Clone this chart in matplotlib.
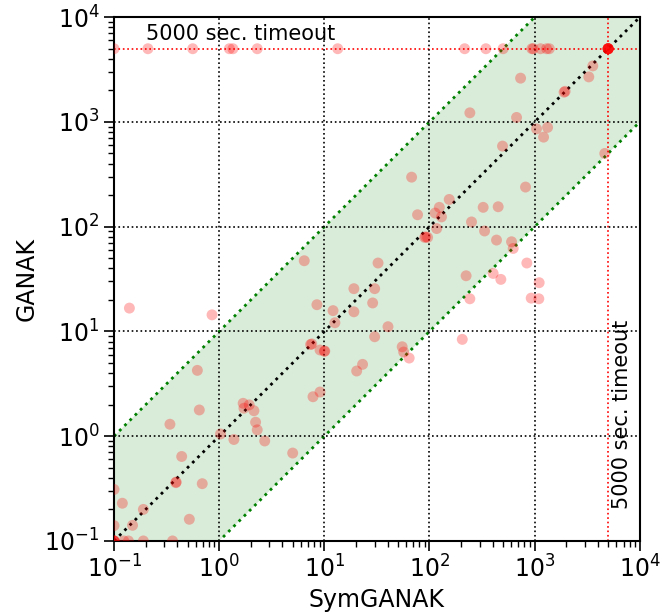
import numpy as np
import matplotlib
matplotlib.use("Agg")
import matplotlib.pyplot as plt

TIMEOUT = 5000

# runs that hit the timeout on GANAK side
timeout_x = [0.1, 0.21, 0.56, 1.25, 1.35, 2.3, 13.4, 216, 344, 501, 940, 970,
             1138, 1300, 1380, 5000, 5000, 5000, 5000, 5000, 5000, 5000, 5000]

# solved instances (SymGANAK time, GANAK time)
sym_x = [3573, 3273, 1905, 1950, 735, 242, 673, 1042, 1327, 1216, 495, 4645,
         67.6, 819, 154,
         6.44, 32.4, 19.1, 30.1, 28.8, 8.5, 12.1, 19.1, 12.6, 30.1, 7.4, 7.6,
         9.1, 10, 10.1, 23.1, 20.3, 0.14, 0.855, 0.62,
         124, 77, 113, 130, 324, 450, 251, 117, 334, 90, 92, 96, 434, 603, 625,
         843, 223, 403, 477, 1104, 242, 927, 1096, 40.3, 55, 56.8, 64.1, 205,
         0.647, 0.34, 1.69, 1.93, 1.72, 2.14, 2.22, 2.30, 1.03, 1.38, 2.71, 7.8,
         9.1, 5.0, 0.44, 0.387, 0.39, 0.69, 0.1, 0.12, 0.19, 0.15, 0.52, 0.1,
         0.1, 0.1, 0.1, 0.1, 0.124, 0.137, 0.19, 0.36]
ganak_y = [3427, 2692, 1923, 1960, 2618, 1222, 1104, 859, 887, 716, 588, 500,
           297, 239, 182,
           47.3, 45, 25.6, 25.6, 18.7, 18.0, 15.8, 15.4, 12.1, 8.9, 7.5, 7.6,
           6.65, 6.46, 6.5, 4.85, 4.19, 16.7, 14.4, 4.25,
           153, 130, 135, 124, 153, 155, 111, 96, 91, 79, 80, 79, 74.5, 71.8, 62,
           45, 34, 35.8, 31.4, 29.2, 20.5, 20.8, 20.5, 11.1, 7.14, 6.36, 5.57, 8.4,
           1.78, 1.30, 2.06, 1.99, 1.85, 1.75, 1.36, 1.15, 1.05, 0.93, 0.90, 2.38,
           2.64, 0.69, 0.64, 0.36, 0.365, 0.352, 0.31, 0.229, 0.20, 0.141, 0.161, 0.14,
           0.1, 0.1, 0.1, 0.1, 0.1, 0.1, 0.1, 0.1]

lo, hi = 0.1, 1e4

fig = plt.figure(figsize=(6.63, 6.14), dpi=100)
ax = fig.add_axes([0.172, 0.119, 0.793, 0.853])
ax.set_xscale("log")
ax.set_yscale("log")

line = np.array([lo, hi])
ax.fill_between(line, line / 10, line * 10, color="green", alpha=0.15, lw=0)
ax.plot(line, line / 10, ":", color="green", lw=2)
ax.plot(line, line * 10, ":", color="green", lw=2)
ax.plot(line, line, ":", color="black", lw=2)

ax.axhline(TIMEOUT, color="red", ls=":", lw=1.2)
ax.axvline(TIMEOUT, color="red", ls=":", lw=1.2)

all_x = timeout_x + sym_x
all_y = [TIMEOUT] * len(timeout_x) + ganak_y
ax.scatter(all_x, all_y, s=62, color="red", alpha=0.28, edgecolors="none", zorder=3)

ax.text(0.2, 5600, "5000 sec. timeout", fontsize=15, ha="left", va="bottom")
ax.text(5450, 0.2, "5000 sec. timeout", fontsize=15, rotation=90,
        ha="left", va="bottom")

ax.set_xlim(lo, hi)
ax.set_ylim(lo, hi)
ax.grid(True, which="major", color="black", ls=":", lw=1.2)
ax.set_axisbelow(False)
ax.tick_params(which="major", labelsize=17, length=7, width=1.2)
ax.tick_params(which="minor", length=4, width=1)
for sp in ax.spines.values():
    sp.set_linewidth(1.5)
ax.set_xlabel("SymGANAK", fontsize=17)
ax.set_ylabel("GANAK", fontsize=17)

plt.savefig("out.png", dpi=100)
